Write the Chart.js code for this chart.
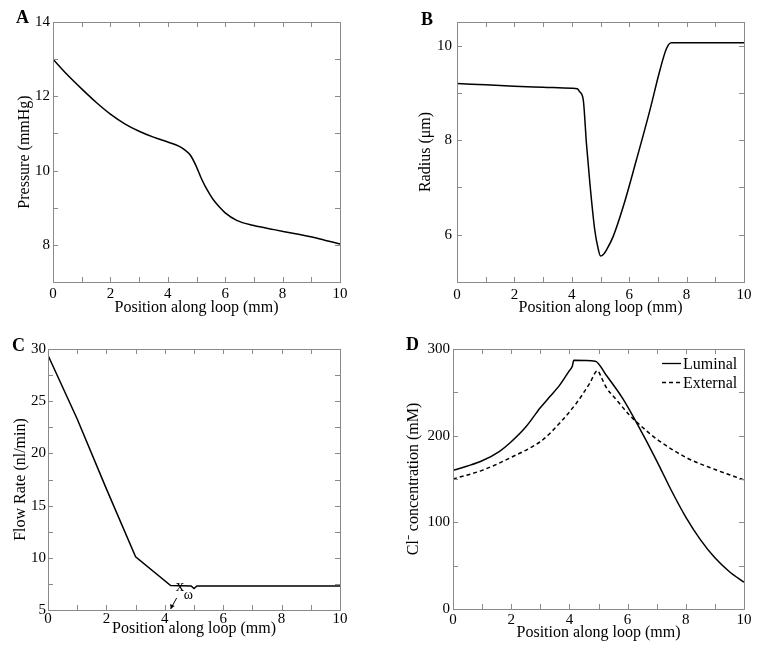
<!DOCTYPE html>
<html>
<head>
<meta charset="utf-8">
<script src="https://cdn.jsdelivr.net/npm/chart.js@4.4.0/dist/chart.umd.min.js"></script>
<style>
    html, body { margin: 0; padding: 0; background: #fff; }
    #fig { position: relative; width: 762px; height: 654px; }
    .panel { position: absolute; width: 381px; height: 327px; }
</style>
</head>
<body>
<div id="fig">
    <div class="panel" style="left:0;top:0"><canvas id="chartA" width="381" height="327"></canvas></div>
    <div class="panel" style="left:381px;top:0"><canvas id="chartB" width="381" height="327"></canvas></div>
    <div class="panel" style="left:0;top:327px"><canvas id="chartC" width="381" height="327"></canvas></div>
    <div class="panel" style="left:381px;top:327px"><canvas id="chartD" width="381" height="327"></canvas></div>
</div>
<script>
// Values (position along loop in mm on every x axis).
const pressureX = [0, 0.5, 1, 1.5, 2, 2.5, 3, 3.5, 4, 4.4, 4.6, 4.8, 5.0, 5.15, 5.3, 5.45, 5.6, 5.8, 6.0, 6.4, 7.0, 7.7, 8.5, 9.3, 10];
const pressureY = [13.0, 12.58, 12.2, 11.84, 11.52, 11.26, 11.06, 10.9, 10.77, 10.65, 10.55, 10.4, 10.1, 9.82, 9.58, 9.38, 9.2, 9.02, 8.86, 8.66, 8.52, 8.41, 8.29, 8.16, 8.02];

const radiusX = [0, 1, 2, 3, 4, 4.19, 4.28, 4.4, 4.51, 4.63, 4.8, 4.92, 5.0, 5.1, 5.21, 5.44, 5.79, 6.25, 6.72, 7.07, 7.3, 7.47, 8, 9, 10];
const radiusY = [9.2, 9.17, 9.14, 9.12, 9.1, 9.09, 9.02, 8.85, 7.93, 7.09, 6.1, 5.7, 5.55, 5.58, 5.68, 5.96, 6.59, 7.58, 8.63, 9.48, 9.94, 10.06, 10.06, 10.06, 10.06];

const flowX = [0, 1, 2, 3, 4.2, 4.9, 5.0, 5.1, 6, 8, 10];
const flowY = [29.4, 23.3, 16.6, 10.1, 7.35, 7.3, 7.05, 7.3, 7.3, 7.3, 7.3];

const luminalX = [0, 0.5, 1, 1.6, 2, 2.5, 2.86, 2.97, 3.3, 3.66, 4.0, 4.1, 4.15, 4.89, 5.26, 5.83, 6.34, 7, 7.5, 8, 8.5, 9, 9.5, 10];
const luminalY = [160, 165, 171, 182, 193, 210, 226, 231, 244, 258, 275, 280, 287, 286, 270, 243, 213, 171, 137, 106, 80, 59, 43, 31];
const externalX = [0, 1, 2, 3, 3.31, 4.23, 4.69, 4.97, 5.1, 5.26, 5.6, 6.06, 6.5, 7, 8, 9, 10];
const externalY = [150, 160, 175, 193, 202, 237, 260, 275, 267, 256, 242, 224, 210, 196, 175, 161, 149];

const X_TITLE = 'Position along loop (mm)';
const FONT = '"Liberation Serif", "Times New Roman", serif';
const AXIS_COLOR = '#8a8a8a';
const TICK_LEN = 5;
const W = 381, H = 327;

const pts = (xs, ys) => xs.map((x, i) => ({ x, y: ys[i] }));

// MATLAB-style box with inward ticks on all four sides, plus panel letter.
const matlabAxes = {
    id: 'matlabAxes',
    afterDatasetsDraw(chart, args, opts) {
        const { ctx, chartArea: a, scales: { x, y } } = chart;
        ctx.save();
        ctx.strokeStyle = AXIS_COLOR;
        ctx.lineWidth = 1;
        ctx.beginPath();
        x.ticks.forEach(t => {
            const px = Math.round(x.getPixelForValue(t.value)) + 0.5;
            ctx.moveTo(px, a.bottom); ctx.lineTo(px, a.bottom - TICK_LEN);
            ctx.moveTo(px, a.top); ctx.lineTo(px, a.top + TICK_LEN);
        });
        y.ticks.forEach(t => {
            const py = Math.round(y.getPixelForValue(t.value)) + 0.5;
            ctx.moveTo(a.left, py); ctx.lineTo(a.left + TICK_LEN, py);
            ctx.moveTo(a.right, py); ctx.lineTo(a.right - TICK_LEN, py);
        });
        ctx.stroke();
        ctx.strokeRect(Math.round(a.left) + 0.5, Math.round(a.top) + 0.5,
            Math.round(a.right - a.left), Math.round(a.bottom - a.top));
        ctx.fillStyle = '#000';
        ctx.font = 'bold 18px ' + FONT;
        ctx.textBaseline = 'alphabetic';
        ctx.fillText(opts.letter, opts.letterX, opts.letterY);
        ctx.restore();
    }
};

// x_omega marker with small arrow pointing at the axis (panel C).
const xOmegaNote = {
    id: 'xOmegaNote',
    afterDatasetsDraw(chart) {
        const { ctx, scales: { x, y } } = chart;
        const tipX = x.getPixelForValue(4.2);
        const tipY = y.getPixelForValue(5) - 1;
        ctx.save();
        ctx.strokeStyle = '#000';
        ctx.fillStyle = '#000';
        ctx.lineWidth = 1;
        ctx.beginPath();
        ctx.moveTo(tipX + 6, tipY - 11);
        ctx.lineTo(tipX, tipY);
        ctx.stroke();
        ctx.beginPath();
        ctx.moveTo(tipX, tipY);
        ctx.lineTo(tipX - 0.5, tipY - 5);
        ctx.lineTo(tipX + 4, tipY - 3);
        ctx.closePath();
        ctx.fill();
        ctx.textBaseline = 'alphabetic';
        ctx.font = '17px ' + FONT;
        ctx.fillText('x', tipX + 5, tipY - 18);
        ctx.font = '14px ' + FONT;
        ctx.fillText('ω', tipX + 13, tipY - 10);
        ctx.restore();
    }
};

// Legend drawn inside the plot box, top right (panel D).
const insetLegend = {
    id: 'insetLegend',
    afterDatasetsDraw(chart) {
        const { ctx, chartArea: a } = chart;
        ctx.save();
        ctx.font = '16px ' + FONT;
        ctx.textBaseline = 'middle';
        ctx.fillStyle = '#000';
        chart.data.datasets.forEach((ds, i) => {
            const yy = Math.round(a.top + 14 + i * 19) + 0.5;
            const x1 = a.right - 82;
            ctx.strokeStyle = '#000';
            ctx.lineWidth = 1.3;
            ctx.setLineDash(ds.borderDash || []);
            ctx.beginPath();
            ctx.moveTo(x1, yy);
            ctx.lineTo(x1 + 19, yy);
            ctx.stroke();
            ctx.setLineDash([]);
            ctx.fillText(ds.label, x1 + 21, yy + 1);
        });
        ctx.restore();
    }
};

function lineSet(label, data, extra) {
    return Object.assign({
        label, data,
        borderColor: '#000',
        borderWidth: 1.5,
        pointRadius: 0,
        fill: false,
        cubicInterpolationMode: 'monotone'
    }, extra || {});
}

function buildPanel(id, p) {
    const tickFont = { family: FONT, size: 15, lineHeight: 1.2 };
    const titleFont = { family: FONT, size: 16, lineHeight: 1.2 };
    return new Chart(document.getElementById(id), {
        type: 'line',
        data: { datasets: p.datasets },
        options: {
            responsive: false,
            animation: false,
            events: [],
            layout: { padding: { left: 0, top: p.area.top, right: W - p.area.right, bottom: 0 } },
            plugins: {
                legend: { display: false },
                tooltip: { enabled: false },
                matlabAxes: { letter: p.letter, letterX: p.letterX, letterY: p.letterY }
            },
            scales: {
                x: {
                    type: 'linear', min: 0, max: 10,
                    grid: { display: false, drawTicks: false },
                    border: { display: false },
                    ticks: {
                        stepSize: 1, includeBounds: false, autoSkip: false, maxRotation: 0,
                        padding: p.xTickY - p.area.bottom - 9,
                        color: '#000', font: tickFont,
                        callback: v => (v % 2 === 0 ? String(v) : '')
                    },
                    title: {
                        display: true, text: X_TITLE, color: '#000', font: titleFont,
                        padding: { top: 0, bottom: H - p.xTitleY - 9.6 }
                    },
                    afterFit: s => { s.height = H - p.area.bottom; }
                },
                y: {
                    type: 'linear', min: p.yMin, max: p.yMax,
                    grid: { display: false, drawTicks: false },
                    border: { display: false },
                    ticks: {
                        stepSize: p.yStep, includeBounds: false, autoSkip: false,
                        padding: p.yTickGap,
                        color: '#000', font: tickFont,
                        callback: v => (Math.abs(v % p.yLabelStep) < 1e-9 ? String(v) : '')
                    },
                    title: {
                        display: true, text: p.yTitle, color: '#000', font: titleFont,
                        padding: { top: p.yTitleX - 9.6, bottom: 0 }
                    },
                    afterFit: s => { s.width = p.area.left; }
                }
            }
        },
        plugins: [matlabAxes].concat(p.extraPlugins || [])
    });
}

buildPanel('chartA', {
    letter: 'A', letterX: 16, letterY: 23,
    area: { left: 53, right: 340, top: 22, bottom: 282 },
    yMin: 7, yMax: 14, yStep: 1, yLabelStep: 2, yTickGap: 3,
    yTitle: 'Pressure (mmHg)', yTitleX: 25, xTitleY: 308, xTickY: 294,
    datasets: [lineSet('Pressure', pts(pressureX, pressureY))]
});

buildPanel('chartB', {
    letter: 'B', letterX: 40, letterY: 25,
    area: { left: 76, right: 363, top: 22, bottom: 282 },
    yMin: 5, yMax: 10.5, yStep: 1, yLabelStep: 2, yTickGap: 5,
    yTitle: 'Radius (\u03BCm)', yTitleX: 45, xTitleY: 308, xTickY: 295,
    datasets: [lineSet('Radius', pts(radiusX, radiusY))]
});

buildPanel('chartC', {
    letter: 'C', letterX: 12, letterY: 24,
    area: { left: 48, right: 340, top: 22, bottom: 283 },
    yMin: 5, yMax: 30, yStep: 2.5, yLabelStep: 5, yTickGap: 2,
    yTitle: 'Flow Rate (nl/min)', yTitleX: 21, xTitleY: 302, xTickY: 292,
    datasets: [lineSet('Flow', pts(flowX, flowY), { cubicInterpolationMode: 'default', tension: 0 })],
    extraPlugins: [xOmegaNote]
});

buildPanel('chartD', {
    letter: 'D', letterX: 25, letterY: 23,
    area: { left: 72, right: 363, top: 22, bottom: 282 },
    yMin: 0, yMax: 300, yStep: 50, yLabelStep: 100, yTickGap: 3,
    yTitle: 'Cl\u207B concentration (mM)', yTitleX: 33, xTitleY: 306, xTickY: 293,
    datasets: [
        lineSet('Luminal', pts(luminalX, luminalY)),
        lineSet('External', pts(externalX, externalY), { borderDash: [4, 3] })
    ],
    extraPlugins: [insetLegend]
});
</script>
</body>
</html>
